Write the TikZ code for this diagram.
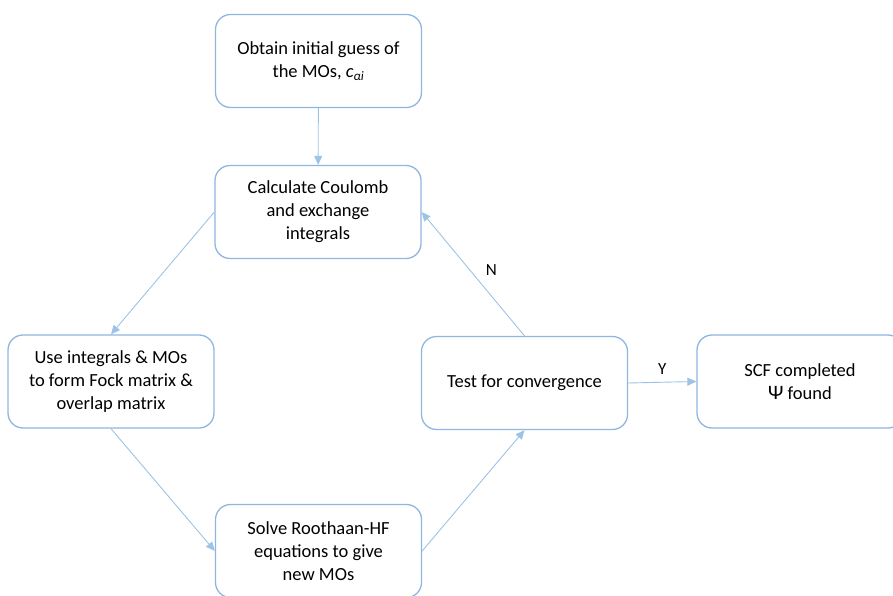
\documentclass[tikz,border=0pt]{standalone}
\usepackage{fontspec}
\setmainfont{Carlito}
\usetikzlibrary{arrows.meta}
\definecolor{edgeblue}{HTML}{9DC3E6}
\definecolor{boxblue}{HTML}{8FB6E0}
\begin{document}
\begin{tikzpicture}[x=1pt,y=1pt,
  flowbox/.style={draw=boxblue, line width=1.3pt, rounded corners=15pt, minimum width=206pt, minimum height=93pt, align=center, font=\fontsize{18.5}{23}\selectfont, text=black, inner sep=0pt},
  flowarrow/.style={draw=edgeblue, line width=0.9pt, -{Triangle[length=9pt,width=8pt]}},
  lbl/.style={font=\fontsize{17}{20}\selectfont, text=black}]
\useasboundingbox (0,0) rectangle (893,595);
\clip (0,0) rectangle (893,595);
\node[flowbox] (guess) at (318.5,534) {Obtain initial guess of\\the MOs, \textit{c}\textsubscript{\textit{αi}}};
\node[flowbox] (calc) at (318,383) {Calculate Coulomb\\and exchange\\integrals};
\node[flowbox] (use) at (111,213.5) {Use integrals \& MOs\\to form Fock matrix \&\\overlap matrix};
\node[flowbox] (test) at (524.5,212) {Test for convergence};
\node[flowbox] (scf) at (800,213.5) {SCF completed\\{\fontsize{20.5}{23}\selectfont Ψ} found};
\node[flowbox] (solve) at (318.5,44) {Solve Roothaan-HF\\equations to give\\new MOs};
\draw[flowarrow] (guess) -- (calc);
\draw[flowarrow] (calc.west) -- (use.north);
\draw[flowarrow] (use.south) -- (solve.west);
\draw[flowarrow] (solve.east) -- (test.south);
\draw[flowarrow] (test.north) -- node[lbl, pos=0.53, right=12pt] (n) {N} (calc.east);
\draw[flowarrow] (test.east) -- node[lbl, above=4pt] (y) {Y} (scf.west);
\end{tikzpicture}
\end{document}
